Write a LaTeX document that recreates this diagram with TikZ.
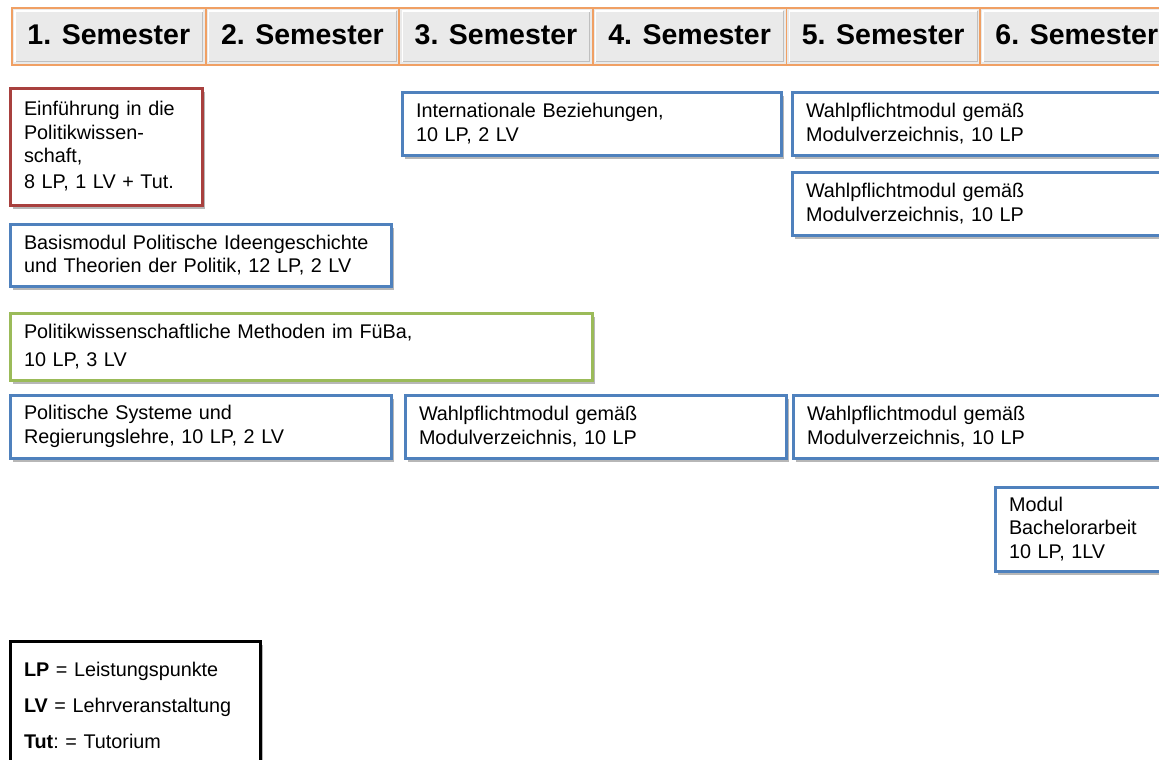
\documentclass[tikz,border=0pt]{standalone}
\usepackage{fontspec}
\setmainfont{Liberation Sans}
\usepackage{tikz}
\usetikzlibrary{positioning, shadows}
\definecolor{modblue}{RGB}{79,129,189}
\definecolor{modgreen}{RGB}{155,187,89}
\definecolor{modred}{RGB}{168,64,62}
\definecolor{semorange}{RGB}{240,160,100}
\definecolor{semgray}{RGB}{234,234,234}
\tikzstyle{semcell} = [rectangle, anchor=north west, outer sep=0pt, minimum width=193.6pt, minimum height=57pt, draw=semorange, line width=1.8pt, fill=semgray, font=\fontsize{28.5}{30}\selectfont\bfseries]
\tikzstyle{module} = [rectangle, anchor=north west, outer sep=0pt, draw=modblue, line width=3pt, fill=white, align=left, inner xsep=14pt, inner ysep=2pt, font=\fontsize{19.8}{23.5}\selectfont, drop shadow={shadow xshift=2.5pt, shadow yshift=-3.5pt, opacity=.4, fill=black!70}]

\begin{document}
\begin{tikzpicture}[x=1pt, y=-1pt]
\path[use as bounding box, clip] (0,0) rectangle (1159,760);

% semester header
\foreach \i in {1,...,6} {
  \node[semcell] (sem\i) at ({12+(\i-1)*193.6},8) {\raisebox{4pt}{\i. Semester}};
  \draw[black!25, line width=1pt] ([xshift=3pt,yshift=3pt]sem\i.south west) -| ([xshift=-3pt,yshift=-3pt]sem\i.north east);
  \draw[white, line width=1.2pt] ([xshift=3pt,yshift=3pt]sem\i.south west) |- ([xshift=-3pt,yshift=-3pt]sem\i.north east);
}

% modules, first column
\node[module, draw=modred, minimum width=192pt, minimum height=117pt, text width=164pt] (einf) at (10,88)
  {Einführung in die\\Politikwissen-\\schaft,\\[2.5pt]8 LP, 1 LV + Tut.};
\node[module, below=19pt of einf.south west, anchor=north west, minimum width=381pt, minimum height=62pt, text width=353pt] (basis)
  {Basismodul Politische Ideengeschichte\\und Theorien der Politik, 12 LP, 2 LV};
\node[module, draw=modgreen, below=27pt of basis.south west, anchor=north west, minimum width=582pt, minimum height=67pt, text width=554pt] (meth)
  {Politikwissenschaftliche Methoden im FüBa,\\[4.5pt]10 LP, 3 LV};
\node[module, below=15pt of meth.south west, anchor=north west, minimum width=381pt, minimum height=63pt, text width=353pt] (polsys)
  {Politische Systeme und\\Regierungslehre, 10 LP, 2 LV};
\node[module, right=14pt of polsys.north east, anchor=north west, minimum width=381pt, minimum height=63pt, text width=353pt] (wahlc)
  {Wahlpflichtmodul gemäß\\Modulverzeichnis, 10 LP};
\node[module, right=7pt of wahlc.north east, anchor=north west, minimum width=390pt, minimum height=63pt, text width=362pt] (wahlf)
  {Wahlpflichtmodul gemäß\\Modulverzeichnis, 10 LP};

% modules, later semesters
\node[module, minimum width=379pt, minimum height=63pt, text width=351pt] (intbez) at (402,92)
  {Internationale Beziehungen,\\10 LP, 2 LV};
\node[module, right=11pt of intbez.north east, anchor=north west, minimum width=390pt, minimum height=63pt, text width=362pt] (wahla)
  {Wahlpflichtmodul gemäß\\Modulverzeichnis, 10 LP};
\node[module, below=17pt of wahla.south west, anchor=north west, minimum width=390pt, minimum height=63pt, text width=362pt] (wahlb)
  {Wahlpflichtmodul gemäß\\Modulverzeichnis, 10 LP};
\node[module, minimum width=190pt, minimum height=84pt, text width=162pt] (bach) at (995,487)
  {Modul\\Bachelorarbeit\\10 LP, 1LV};

% legend
\node[module, draw=black, line width=3pt, drop shadow={opacity=0}, minimum width=250pt, minimum height=128pt, text width=222pt] (legend) at (10,641)
  {\textbf{LP} = Leistungspunkte\\[12.5pt]\textbf{LV} = Lehrveranstaltung\\[12.5pt]\textbf{Tut}:\ = Tutorium};

\end{tikzpicture}
\end{document}
